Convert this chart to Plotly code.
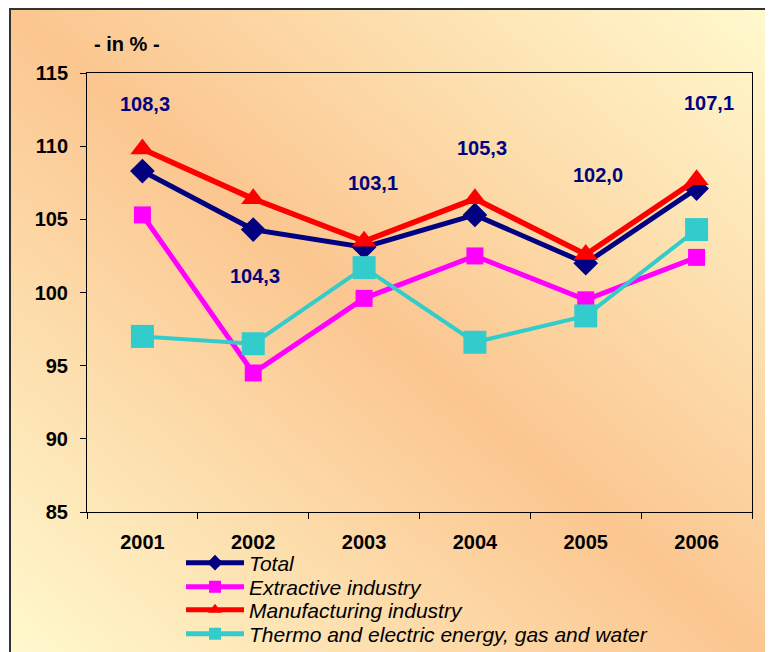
import base64
import plotly.graph_objects as go

# ---- data ----
years = ["2001", "2002", "2003", "2004", "2005", "2006"]
total = [108.3, 104.3, 103.1, 105.3, 102.0, 107.1]
extractive = [105.3, 94.5, 99.6, 102.5, 99.5, 102.4]
manufacturing = [109.8, 106.4, 103.5, 106.4, 102.6, 107.7]
thermo = [97.0, 96.5, 101.7, 96.6, 98.4, 104.3]
series_names = ["Total", "Extractive industry", "Manufacturing industry",
                "Thermo and electric energy, gas and water"]
y_ticks = [85, 90, 95, 100, 105, 110, 115]

# label placement for the "Total" value labels (y in data units, x shift in px)
label_y = [112.9, 101.15, 107.5, 109.9, 108.0, 112.95]
label_dx = [3, 2, 9, 7, 12, 12]

FONT = "Arial, Liberation Sans, sans-serif"

# page body has an 8px default margin; the figure is sized so that it fills the window
OFF = 8
W, H = 773 - OFF, 652 - OFF
L, T = 87 - OFF, 73 - OFF
R = W - (752 - OFF)
B = H - (512 - OFF)
pw, ph = W - L - R, H - T - B
def px(x):
    return (x - OFF - L) / pw
def py(y):
    return (H - B - (y - OFF)) / ph

fig = go.Figure()

styles = [
    dict(color="#000080", symbol="diamond", size=19, width=5),
    dict(color="#FF00FF", symbol="square", size=17, width=5),
    dict(color="#FF0000", symbol="triangle-up", size=21, width=5.5),
    dict(color="#33CCCC", symbol="square", size=23, width=4),
]
data = [total, extractive, manufacturing, thermo]
legends = ["legend", "legend2", "legend3", "legend4"]
for name, vals, st, lg in zip(series_names, data, styles, legends):
    fig.add_trace(go.Scatter(
        x=years, y=vals, name=name, mode="lines+markers",
        line=dict(color=st["color"], width=st["width"]),
        marker=dict(color=st["color"], symbol=st["symbol"], size=st["size"]),
        legend=lg, cliponaxis=False,
    ))

for i, (v, ly, dx) in enumerate(zip(total, label_y, label_dx)):
    fig.add_annotation(x=i, y=ly, xref="x", yref="y",
                       text=f"{v:.1f}".replace(".", ","),
                       showarrow=False, xshift=dx,
                       font=dict(family=FONT, size=20, color="#000080", weight="bold"))

fig.add_annotation(xref="paper", yref="paper", x=px(92), y=py(31),
                   text="- in % -", showarrow=False,
                   font=dict(family=FONT, size=20, color="black", weight="bold"))

# background gradient
svg = ('<svg xmlns="http://www.w3.org/2000/svg" width="100" height="100" '
       'viewBox="0 0 100 100" preserveAspectRatio="none"><defs>'
       '<linearGradient id="g" x1="0" y1="1" x2="1" y2="0">'
       '<stop offset="0" stop-color="#FFFBD0"/>'
       '<stop offset="0.5" stop-color="#FBC690"/>'
       '<stop offset="1" stop-color="#FFFBD0"/>'
       '</linearGradient></defs>'
       '<rect width="100" height="100" fill="url(#g)"/></svg>')
src = "data:image/svg+xml;base64," + base64.b64encode(svg.encode()).decode()

fig.add_layout_image(source=src, xref="paper", yref="paper",
                     x=px(10), y=py(9), sizex=(790 - 10) / pw, sizey=(680 - 9) / ph,
                     xanchor="left", yanchor="top", sizing="stretch", layer="below")
fig.add_shape(type="rect", xref="paper", yref="paper",
              x0=px(10), y0=py(9), x1=px(800), y1=py(720),
              line=dict(color="#333333", width=2), layer="below")

legend_rows = [563, 587, 610, 634]
leg_common = dict(xanchor="left", yanchor="middle", bgcolor="rgba(0,0,0,0)",
                  borderwidth=0, itemwidth=58, itemsizing="constant",
                  xref="container", yref="container",
                  font=dict(family=FONT, size=21, color="black", style="italic"))
layout_legends = {}
for lg, row in zip(legends, legend_rows):
    layout_legends[lg] = dict(x=(181 - OFF) / W, y=1 - (row - OFF) / H, **leg_common)

fig.update_layout(
    template="none",
    width=W, height=H,
    margin=dict(l=L, r=R, t=T, b=B, autoexpand=False),
    paper_bgcolor="white",
    plot_bgcolor="rgba(0,0,0,0)",
    showlegend=True,
    **layout_legends,
)
fig.update_xaxes(type="category", range=[-0.5, 5.5], showgrid=False, automargin=False,
                 showline=True, linecolor="black", linewidth=1, mirror=True,
                 ticks="outside", tickson="boundaries", ticklen=6, tickcolor="black",
                 ticklabelstandoff=12,
                 tickfont=dict(family=FONT, size=20, color="black", weight="bold"))
fig.update_yaxes(range=[85, 115], tickvals=y_ticks, showgrid=False, zeroline=False,
                 automargin=False,
                 showline=True, linecolor="black", linewidth=1, mirror=True,
                 ticks="outside", ticklen=6, tickcolor="black", ticklabelstandoff=8,
                 tickfont=dict(family=FONT, size=20, color="black", weight="bold"))

fig.write_html("out.html")
